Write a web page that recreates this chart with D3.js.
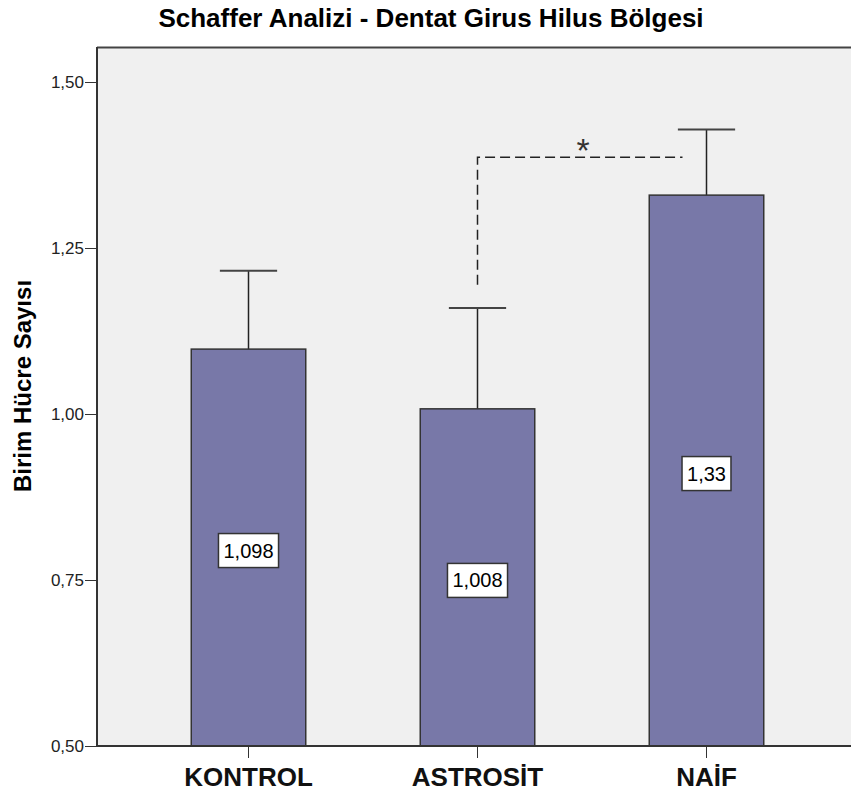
<!DOCTYPE html>
<html lang="tr">
<head>
<meta charset="UTF-8">
<title>Schaffer Analizi - Dentat Girus Hilus Bölgesi</title>
<style>
    body { margin: 0; background: #fff; font-family: Arial, "Liberation Sans", sans-serif; }
    svg { display: block; }
    .axis path, .axis line { stroke: #333; shape-rendering: crispEdges; }
</style>
</head>
<body>
<svg width="851" height="794"></svg>
<script src="https://d3js.org/d3.v7.min.js"></script>
<script>
    const groups = ["KONTROL", "ASTROSİT", "NAİF"];
    const means = [1.098, 1.008, 1.33];
    const upper = [1.216, 1.160, 1.429];
    const labels = ["1,098", "1,008", "1,33"];
    const yTicks = [0.50, 0.75, 1.00, 1.25, 1.50];
    // significance bracket between ASTROSİT and NAİF
    const sigPair = ["ASTROSİT", "NAİF"];
    const sigLevels = [1.195, 1.387];

    const svg = d3.select("svg");
    const plot = {left: 97, top: 47, right: 851, bottom: 746};

    const x = d3.scaleBand().domain(groups).range([134, 821]).padding(0);
    const bw = x.bandwidth() / 2;
    const cx = d => x(d) + x.bandwidth() / 2;
    const y = d3.scaleLinear().domain([0.5, 1.5]).range([746, 82.3]);

    // plot background
    svg.append("rect")
        .attr("x", plot.left).attr("y", plot.top)
        .attr("width", plot.right - plot.left).attr("height", plot.bottom - plot.top)
        .attr("fill", "#f0f0f0");
    svg.append("line")
        .attr("x1", plot.left).attr("x2", plot.right)
        .attr("y1", plot.top + 0.5).attr("y2", plot.top + 0.5)
        .attr("stroke", "#444").attr("stroke-width", 2);

    svg.append("text")
        .attr("x", 431).attr("y", 27)
        .attr("text-anchor", "middle")
        .style("font-weight", "bold").style("font-size", "26px")
        .text("Schaffer Analizi - Dentat Girus Hilus Bölgesi");

    // error bars (upper only)
    const eb = svg.append("g");
    groups.forEach((g, i) => {
        eb.append("line")
            .attr("x1", cx(g)).attr("x2", cx(g))
            .attr("y1", y(means[i])).attr("y2", y(upper[i]))
            .attr("stroke", "#222").attr("stroke-width", 1.5);
        eb.append("line")
            .attr("x1", cx(g) - bw / 4).attr("x2", cx(g) + bw / 4)
            .attr("y1", y(upper[i])).attr("y2", y(upper[i]))
            .attr("stroke", "#444").attr("stroke-width", 2);
    });

    // bars
    svg.append("g").selectAll("rect")
        .data(groups)
        .join("rect")
        .attr("x", d => cx(d) - bw / 2)
        .attr("width", bw)
        .attr("y", (d, i) => y(means[i]))
        .attr("height", (d, i) => y(0.5) - y(means[i]))
        .attr("fill", "#7878a8")
        .attr("stroke", "#333")
        .attr("stroke-width", 1.5);

    // value labels
    const lab = svg.append("g");
    groups.forEach((g, i) => {
        const my = (y(means[i]) + y(0.5)) / 2 + 3;
        const t = lab.append("text")
            .attr("x", cx(g)).attr("y", my + 7)
            .attr("text-anchor", "middle")
            .style("font-size", "20px")
            .text(labels[i]);
        const bb = t.node().getBBox();
        lab.insert("rect", "text")
            .attr("x", cx(g) - (bb.width + 10) / 2).attr("y", my - 17)
            .attr("width", bb.width + 10).attr("height", 34)
            .attr("fill", "#fff").attr("stroke", "#333").attr("stroke-width", 1.5);
    });

    // significance bracket
    const sx1 = cx(sigPair[0]), sx2 = cx(sigPair[1]) - 24;
    svg.append("path")
        .attr("d", `M${sx1},${y(sigLevels[0])}V${y(sigLevels[1])}H${sx2}`)
        .attr("fill", "none").attr("stroke", "#222")
        .attr("stroke-width", 1.5).attr("stroke-dasharray", "10,5");
    svg.append("text")
        .attr("x", (sx1 + sx2) / 2 + 3).attr("y", y(sigLevels[1]) + 5)
        .attr("text-anchor", "middle")
        .style("font-size", "34px")
        .attr("fill", "#333")
        .text("*");

    // axes
    const yAxis = svg.append("g").attr("class", "axis")
        .attr("transform", `translate(${plot.left},0)`)
        .call(d3.axisLeft(y).tickValues(yTicks).tickSize(12)
            .tickFormat(d => d3.format(".2f")(d).replace(".", ",")));
    yAxis.select(".domain").attr("d", `M0,${plot.top}V${plot.bottom}`).attr("stroke-width", 2);
    yAxis.selectAll("text").style("font-size", "17px").attr("fill", "#222").attr("x", -13);

    const xAxis = svg.append("g").attr("class", "axis")
        .attr("transform", `translate(0,${plot.bottom})`)
        .call(d3.axisBottom(x).tickSize(12));
    xAxis.select(".domain").attr("d", `M${plot.left},0H${plot.right}`).attr("stroke-width", 2);
    xAxis.selectAll("text").style("font-size", "26px").style("font-weight", "bold")
        .attr("fill", "#111").attr("y", 40).attr("dy", 0);

    svg.append("text")
        .attr("transform", `translate(31,386) rotate(-90)`)
        .attr("text-anchor", "middle")
        .style("font-weight", "bold").style("font-size", "24px")
        .text("Birim Hücre Sayısı");
</script>
</body>
</html>
